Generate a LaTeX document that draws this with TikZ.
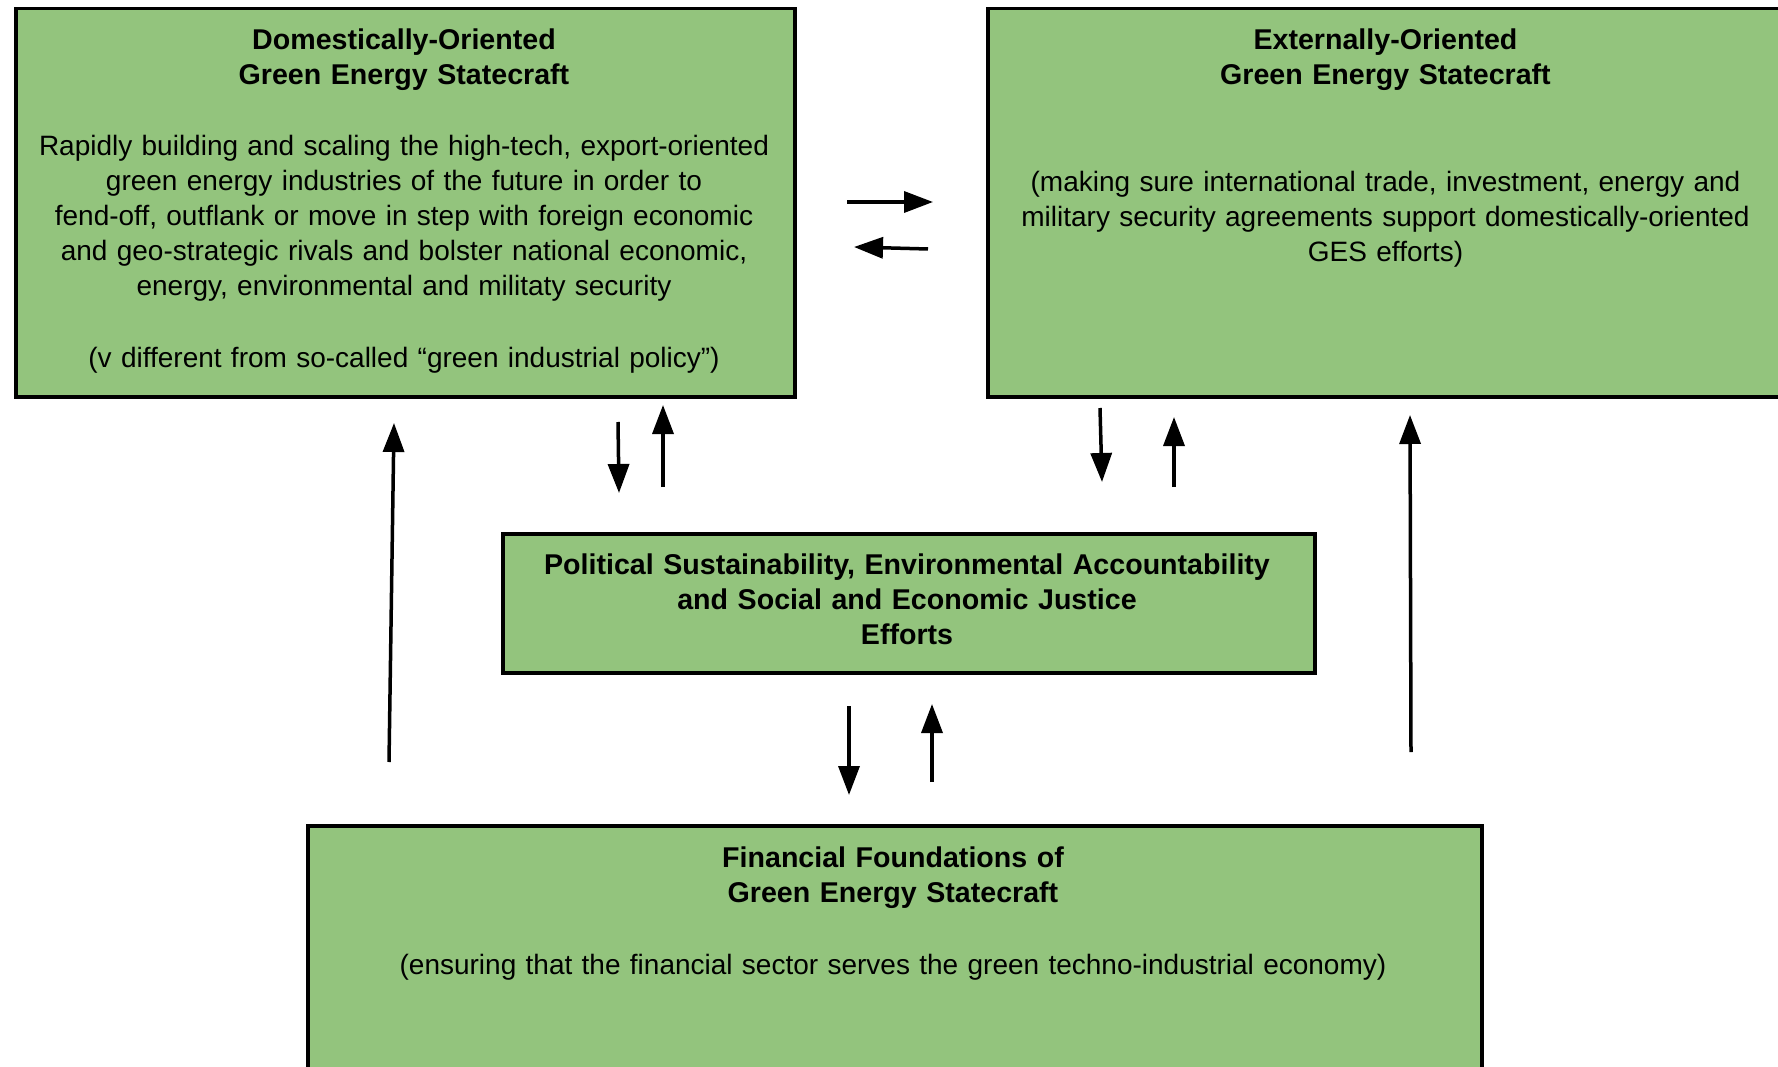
\documentclass[tikz,border=0pt]{standalone}
\usepackage{fontspec}
\setmainfont{Liberation Sans}
\usetikzlibrary{arrows.meta}
\definecolor{boxgreen}{HTML}{93C47D}
\begin{document}
\begin{tikzpicture}[x=1pt,y=-1pt,
  box/.style={draw=black, line width=3.5pt, fill=boxgreen, anchor=north west, inner sep=0pt},
  txt/.style={anchor=base, inner sep=0pt, text width=1300pt, align=center,
              font=\fontsize{28}{35}\selectfont},
  ttl/.style={txt, font=\fontsize{28.6}{35}\selectfont\bfseries},
  arr/.style={line width=3.5pt, -{Triangle[length=29pt,width=21pt]}}]
\clip (0,0) rectangle (1778,1067);
\fill[white] (0,0) rectangle (1778,1067);

% boxes
\node[box, minimum width=779pt, minimum height=388pt] (dom) at (14,7) {};
\node[box, minimum width=799pt, minimum height=388pt] (ext) at (986,7) {};
\node[box, minimum width=812pt, minimum height=139pt] (pol) at (501,532) {};
\node[box, minimum width=1174pt, minimum height=260pt] (fin) at (306,824) {};

% domestically-oriented
\node[ttl] (domT) at (404,50) {Domestically-Oriented\\Green Energy Statecraft};
\node[txt] (domB) at (404,156) {Rapidly building and scaling the high-tech, export-oriented\\
  green energy industries of the future in order to\\
  fend-off, outflank or move in step with foreign economic\\
  and geo-strategic rivals and bolster national economic,\\
  energy, environmental and militaty security};
\node[txt] (domN) at (404,367) {(v different from so-called “green industrial policy”)};

% externally-oriented
\node[ttl] (extT) at (1385.5,50) {Externally-Oriented\\Green Energy Statecraft};
\node[txt] (extB) at (1385.5,192) {(making sure international trade, investment, energy and\\
  military security agreements support domestically-oriented\\
  GES efforts)};

% political sustainability
\node[ttl] (polT) at (907,574) {Political Sustainability, Environmental Accountability\\
  and Social and Economic Justice\\Efforts};

% financial foundations
\node[ttl] (finT) at (893,867) {Financial Foundations of\\Green Energy Statecraft};
\node[txt] (finB) at (893,974) {(ensuring that the financial sector serves the green techno-industrial economy)};

% arrow end points
\coordinate (h1a) at (847,202);  \coordinate (h1b) at (933,202);
\coordinate (h2a) at (928,249);  \coordinate (h2b) at (854,247);
\coordinate (v1a) at (618,422);  \coordinate (v1b) at (619,493);
\coordinate (v2a) at (663,487);  \coordinate (v2b) at (663,405);
\coordinate (v3a) at (1100,408); \coordinate (v3b) at (1102,482);
\coordinate (v4a) at (1174,487); \coordinate (v4b) at (1174,417);
\coordinate (l1a) at (389,762);  \coordinate (l1b) at (394,423);
\coordinate (l2a) at (1411,752); \coordinate (l2b) at (1410,415);
\coordinate (b1a) at (849,706);  \coordinate (b1b) at (849,795);
\coordinate (b2a) at (932,782);  \coordinate (b2b) at (932,704);

% arrows
\draw[arr] (h1a) -- (h1b);
\draw[arr] (h2a) -- (h2b);
\draw[arr] (v1a) -- (v1b);
\draw[arr] (v2a) -- (v2b);
\draw[arr] (v3a) -- (v3b);
\draw[arr] (v4a) -- (v4b);
\draw[arr] (l1a) -- (l1b);
\draw[arr] (l2a) -- (l2b);
\draw[arr] (b1a) -- (b1b);
\draw[arr] (b2a) -- (b2b);
\end{tikzpicture}
\end{document}
